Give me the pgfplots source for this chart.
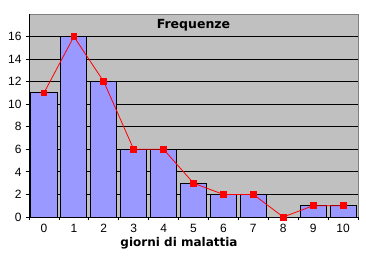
\documentclass[border=0pt]{standalone}
\usepackage{fontspec}
\setmainfont{Liberation Sans}
\newfontfamily\dejavu{DejaVu Sans}
\usepackage{pgfplots}
\pgfplotsset{compat=1.18}
\definecolor{plotbg}{HTML}{C0C0C0}
\definecolor{barfill}{HTML}{9999FF}
\begin{document}
\begin{tikzpicture}
\path[use as bounding box] (0,0) rectangle (366bp,257bp);
\begin{axis}[
  at={(29bp,40bp)}, anchor=south west,
  scale only axis, width=329bp, height=203bp,
  xmin=-0.5, xmax=10.5, ymin=0, ymax=18,
  axis x line*=bottom, axis y line*=left,
  axis line style={black, line width=0.9bp},
  axis background/.style={fill=plotbg, draw=gray, line width=0.8bp},
  xtick={0,...,10},
  major x tick style={draw=none},
  minor xtick={-0.5,0.5,...,10.5},
  minor x tick style={black, line width=0.8bp},
  ytick={0,2,...,16},
  y tick style={black, line width=0.8bp},
  tick align=outside,
  major tick length=3bp, minor tick length=3bp,
  ymajorgrids, major grid style={black, line width=0.8bp},
  /pgf/number format/assume math mode=true,
  tick label style={font=\fontsize{12bp}{14bp}\selectfont},
  xticklabel style={yshift=-1bp},
  yticklabel style={xshift=-1bp},
  xlabel={giorni di malattia},
  xlabel style={font=\dejavu\bfseries\fontsize{12bp}{14bp}\selectfont, at={(axis description cs:0.456,0)}, anchor=center, yshift=-26bp},
  clip=false,
]
\addplot[ybar, bar width=0.87, fill=barfill, draw=black, line width=0.9bp] coordinates {
 (0,11) (1,16) (2,12) (3,6) (4,6) (5,3) (6,2) (7,2) (8,0) (9,1) (10,1)};
\addplot[red, line width=0.8bp, mark=square*, mark size=2.9bp, mark options={fill=red, draw=red}] coordinates {
 (0,11) (1,16) (2,12) (3,6) (4,6) (5,3) (6,2) (7,2) (8,0) (9,1) (10,1)};
\node[font=\dejavu\bfseries\fontsize{12.5bp}{14bp}\selectfont, anchor=center] at (rel axis cs:0.5,0.946) {Frequenze};
\end{axis}
\end{tikzpicture}
\end{document}
